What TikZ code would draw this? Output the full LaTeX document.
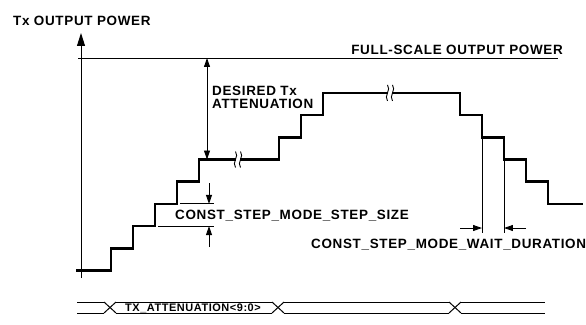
\documentclass[tikz,border=0pt]{standalone}
\usepackage{fontspec}
\newfontfamily\lblfont[LetterSpace=5]{Liberation Sans}
\usetikzlibrary{positioning,arrows.meta,calc}
\tikzset{
  stair/.style={line width=2.5pt,line join=miter},
  thinln/.style={line width=0.9pt},
  axisln/.style={-{Triangle[length=13pt,width=8pt]},line width=0.9pt},
  dimarr/.style={-{Triangle[length=9pt,width=6pt]},line width=0.9pt},
  dimboth/.style={{Triangle[length=9pt,width=6pt]}-{Triangle[length=9pt,width=6pt]},line width=0.9pt},
  lbl/.style={font=\lblfont\bfseries\fontsize{13.5}{12.5}\selectfont,inner sep=0pt},
  buslbl/.style={font=\lblfont\bfseries\fontsize{11}{11}\selectfont,inner sep=0pt},
  bus/.style={line width=1pt},
}
\begin{document}
\begin{tikzpicture}[x=1bp,y=-1bp]
  \useasboundingbox (0,0) rectangle (586,324);
  % power levels of the staircase
  \def\lev#1{270.5-22.2*#1}
  % axis and full-scale level
  \coordinate (ax0) at (81,278);
  \coordinate (ax1) at (81,33);
  \draw[axisln] (ax0) -- (ax1);
  \node[lbl,anchor=base west] (ylbl) at (13,25) {Tx OUTPUT POWER};
  \coordinate (fs0) at (78,58);
  \coordinate (fs1) at (558,58);
  \draw[thinln] (fs0) -- (fs1);
  \node[lbl,anchor=base east] (fslbl) at (563,54) {FULL-SCALE OUTPUT POWER};
  % output power staircase: up, hold, down
  \draw[stair] (76,{\lev{0}})
    \foreach \xr/\k in {111/1,133/2,155/3,177/4,199/5,279/6,301/7,323/8,
                        460/7,482/6,504/5,526/4,548/3}{ -| (\xr,{\lev{\k}}) }
    -- (583,{\lev{3}});
  % breaks in the hold levels
  \foreach \bx/\k in {238/5,390/8}{
    \fill[white] (\bx-2,{\lev{\k}-2}) rectangle (\bx+2,{\lev{\k}+2});
    \foreach \dx in {-2.5,2.5}
      \draw[thinln] (\bx+\dx,{\lev{\k}-8}) .. controls (\bx+\dx+4,{\lev{\k}-3})
        and (\bx+\dx-4,{\lev{\k}+3}) .. (\bx+\dx,{\lev{\k}+8});
  }
  % desired attenuation
  \coordinate (da0) at (207,58);
  \coordinate (da1) at (207,{\lev{5}});
  \draw[dimboth] (da0) -- (da1);
  \node[lbl,anchor=north west,align=left] (dalbl) at (212,86) {DESIRED Tx\\ATTENUATION};
  % step size
  \coordinate (ss0) at (180,{\lev{3}});
  \coordinate (ss1) at (214,{\lev{3}});
  \coordinate (ss2) at (158,{\lev{2}});
  \coordinate (ss3) at (214,{\lev{2}});
  \draw[thinln] (ss0) -- (ss1);
  \draw[thinln] (ss2) -- (ss3);
  \coordinate (sa0) at (209,183);
  \coordinate (sa1) at (209,{\lev{3}});
  \coordinate (sa2) at (209,247);
  \coordinate (sa3) at (209,{\lev{2}});
  \draw[dimarr] (sa0) -- (sa1);
  \draw[dimarr] (sa2) -- (sa3);
  \node[lbl,anchor=base west] (sslbl) at (175,219.5) {CONST\_STEP\_MODE\_STEP\_SIZE};
  % wait duration
  \coordinate (wd0) at (482,{\lev{6}});
  \coordinate (wd1) at (482,233);
  \coordinate (wd2) at (504,{\lev{5}});
  \coordinate (wd3) at (504,233);
  \draw[thinln] (wd0) -- (wd1);
  \draw[thinln] (wd2) -- (wd3);
  \coordinate (wa0) at (460,228);
  \coordinate (wa1) at (482,228);
  \coordinate (wa2) at (526,228);
  \coordinate (wa3) at (504,228);
  \draw[dimarr] (wa0) -- (wa1);
  \draw[dimarr] (wa2) -- (wa3);
  \node[lbl,anchor=base west] (wdlbl) at (311,248) {CONST\_STEP\_MODE\_WAIT\_DURATION};
  % register bus
  \foreach \xa/\xb in {77/104,116/272,284/449,461/545}{
    \draw[bus] (\xa,302) -- (\xb,302);
    \draw[bus] (\xa,313) -- (\xb,313);
  }
  \foreach \cx in {110,278,455}{
    \draw[bus] (\cx-6,302) -- (\cx+6,313);
    \draw[bus] (\cx-6,313) -- (\cx+6,302);
  }
  \node[buslbl,anchor=base] (buslbl) at (193,311.5) {TX\_ATTENUATION<9:0>};
\end{tikzpicture}
\end{document}
